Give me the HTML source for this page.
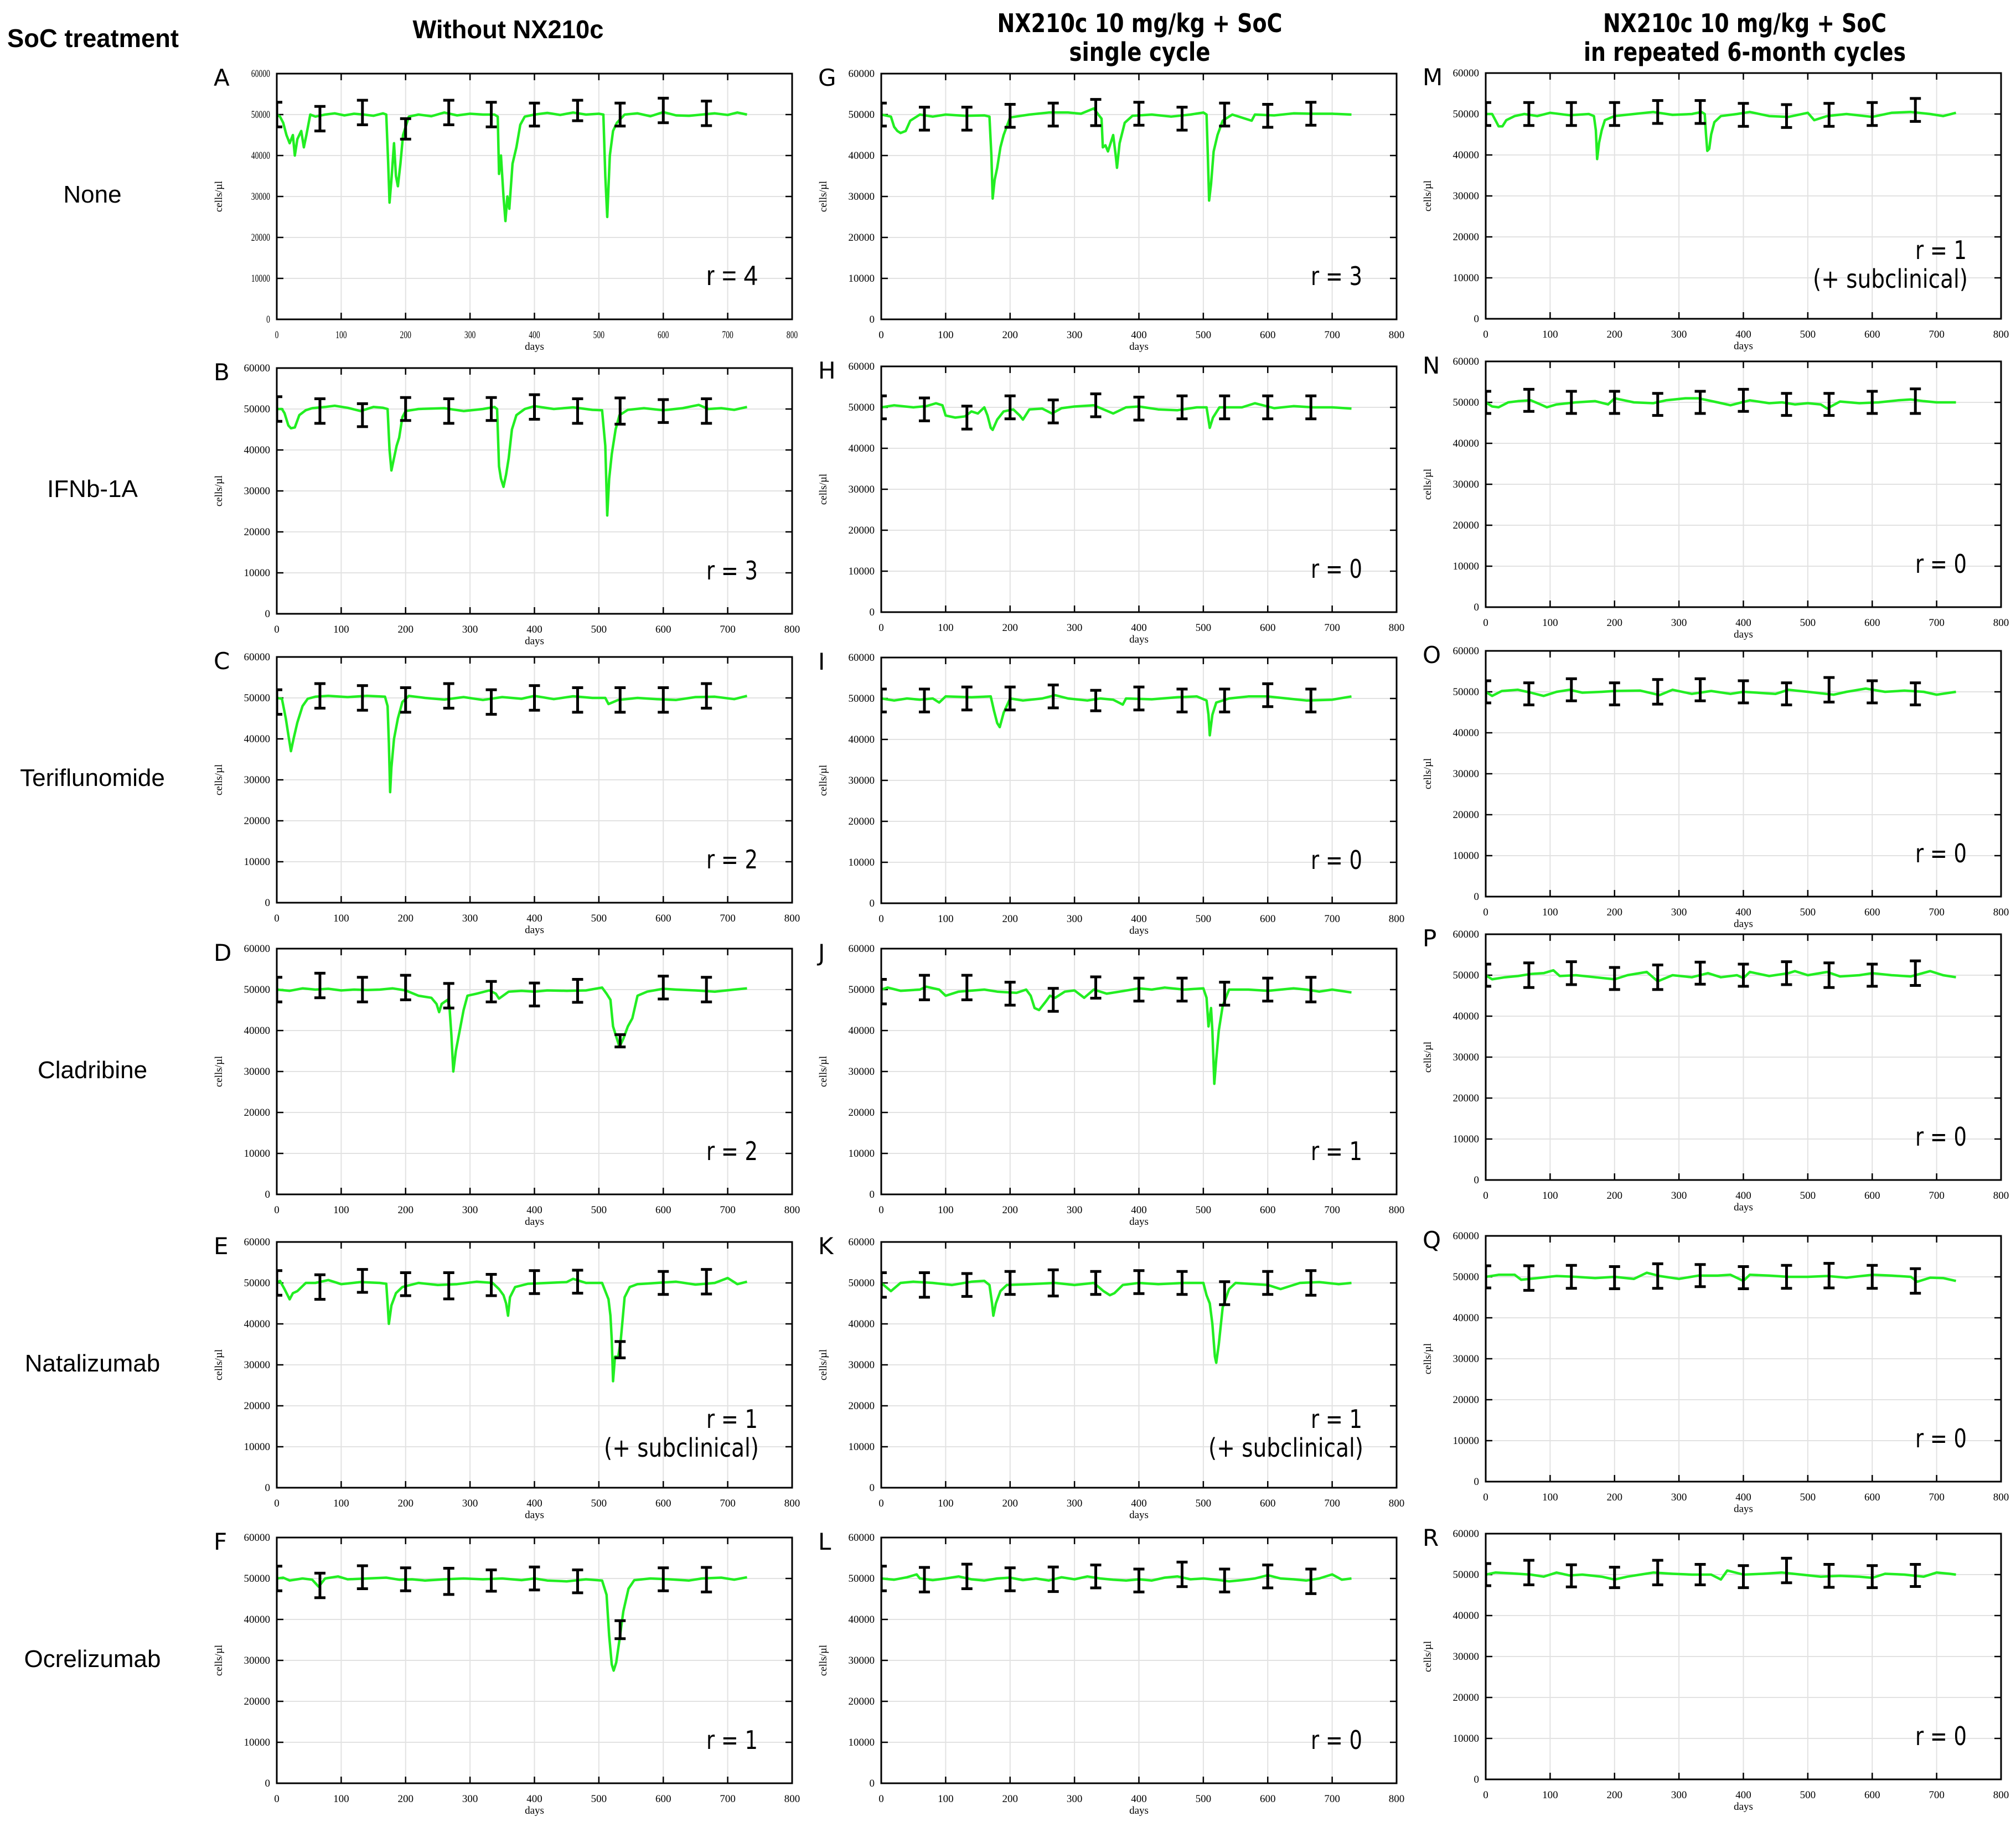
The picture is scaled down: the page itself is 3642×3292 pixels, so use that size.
<!DOCTYPE html>
<html><head><meta charset="utf-8"><style>
html,body{margin:0;padding:0;background:#fff;}
svg{display:block;}
</style></head>
<body>
<svg id="fig" xmlns="http://www.w3.org/2000/svg" width="3642" height="3292" viewBox="0 0 3642 3292">
<rect x="0" y="0" width="3642" height="3292" fill="#fff"/>
<text x="13" y="85" font-family="Liberation Sans, sans-serif" font-weight="bold" font-size="46" textLength="310" lengthAdjust="spacingAndGlyphs">SoC treatment</text>
<text x="918" y="69" text-anchor="middle" font-family="Liberation Sans, sans-serif" font-weight="bold" font-size="46" textLength="345" lengthAdjust="spacingAndGlyphs">Without NX210c</text>
<text x="2059" y="58" text-anchor="middle" font-family="DejaVu Sans, sans-serif" font-weight="bold" font-size="46" textLength="515" lengthAdjust="spacingAndGlyphs">NX210c 10 mg/kg + SoC</text>
<text x="2059" y="110" text-anchor="middle" font-family="DejaVu Sans, sans-serif" font-weight="bold" font-size="46" textLength="255" lengthAdjust="spacingAndGlyphs">single cycle</text>
<text x="3152" y="58" text-anchor="middle" font-family="DejaVu Sans, sans-serif" font-weight="bold" font-size="46" textLength="512" lengthAdjust="spacingAndGlyphs">NX210c 10 mg/kg + SoC</text>
<text x="3152" y="110" text-anchor="middle" font-family="DejaVu Sans, sans-serif" font-weight="bold" font-size="46" textLength="582" lengthAdjust="spacingAndGlyphs">in repeated 6-month cycles</text>
<g font-family="Liberation Sans, sans-serif" font-size="44" text-anchor="middle">
<text x="167" y="366">None</text>
<text x="167" y="898">IFNb-1A</text>
<text x="167" y="1420">Teriflunomide</text>
<text x="167" y="1948">Cladribine</text>
<text x="167" y="2478">Natalizumab</text>
<text x="167" y="3012">Ocrelizumab</text>
</g>
<g id="panels"></g>
</svg>
<script>
// ---- data (values in thousand cells/µl) ----
const xTicks = [0,100,200,300,400,500,600,700,800];
const yTicks = [0,10000,20000,30000,40000,50000,60000];
const ebDays = [0,67,133,200,267,333,400,467,533,600,667];

const daysA = [0,5,10,15,20,25,28,32,38,42,46,52,60,75,90,105,120,135,150,165,170,173,175,178,182,185,188,192,196,200,205,220,240,260,280,300,320,338,343,345,348,352,355,358,361,366,372,378,385,400,420,440,460,480,500,507,510,513,517,522,528,540,560,580,600,620,640,660,680,700,715,730];
const valsA = [50,49.5,48,45,43,45,40,44,46,42,45,50,49.5,50,50.3,49.8,50.2,50,49.7,50.3,50,38,28.5,34,43,35,32.5,38,45,47,49.5,50,49.6,50.5,49.8,50.2,50,50,49.5,35.5,40,30,24,30,27,38,42,47.5,49.5,50,50.4,49.9,50.5,50,50.2,50,35,25,40,46,48,50,50.3,49.6,50.6,49.8,49.7,50,50.3,49.9,50.5,50];
const ebMeanA = [50,49,50.5,46.5,50.5,50,50,51,50,51,50.3];
const ebHalfA = [3,3,3,2.5,3,3,2.8,2.5,2.8,3,3];

const daysB = [0,8,12,18,22,28,35,45,55,75,90,110,130,150,165,172,175,178,182,186,190,195,200,220,260,290,320,338,342,345,348,352,356,360,365,372,385,400,430,460,490,505,510,513,516,520,526,532,545,570,600,630,655,670,690,710,730];
const valsB = [50,50,49,46,45.3,45.5,48.5,49.7,50.2,50.5,50.8,50.3,49.5,50.5,50.3,50,40,35,38,41,43,48,49.5,50,50.2,49.5,50,50.5,50,36,33,31,34,38,45,48.5,50,50.7,50,50.4,49.8,49.7,41,24,33,39,45,48.5,49.8,50.2,49.7,50.2,51,50,50.2,49.8,50.5];
const ebMeanB = [50,49.5,48.5,50,49.5,50,50.5,49.5,49.5,49.5,49.5];
const ebHalfB = [3,3,2.8,2.8,3,2.8,3,3,3.2,2.8,3];

const daysC = [0,8,14,18,22,26,32,40,48,60,80,110,140,168,172,174,176,178,182,188,195,205,230,260,290,320,350,380,400,430,460,490,510,515,530,560,590,620,650,680,710,730];
const valsC = [50,49.8,45,41,37,40,44,48,49.8,50.3,50.5,50.2,50.5,50.3,48,39,27,33,40,45,49,50.5,50,49.6,50.2,49.5,50.2,49.8,50.5,49.7,50.4,50,50,48.5,49.5,50,49.7,49.5,50.2,50.3,49.7,50.5];
const ebMeanC = [49,50.5,50,49.5,50.5,49,50,49.5,49.5,49.5,50.5];
const ebHalfC = [3,3,3,3,3,3,3,3,3,3,3];

const daysD = [0,20,40,60,80,100,120,140,160,180,200,220,240,248,252,256,265,268,271,274,278,284,290,296,310,330,340,345,360,380,400,420,450,480,505,512,518,522,528,532,538,545,552,560,575,600,620,650,680,710,730];
const valsD = [50,49.7,50.3,50,50.2,49.8,50,49.9,50,50.3,49.8,48.5,48,46.5,44.5,46.5,47.5,46,39,30,35,40,45,48.5,49,49.8,49,47.8,49.5,49.7,49.5,49.8,49.7,49.8,50.5,49,47.5,41,38,36,38,41,43,48.5,49.5,50.2,50,49.8,49.5,50,50.3];
const ebMeanD = [50,51,50,50.5,48.5,49.5,48.8,49.7,37.5,50.5,50];
const ebHalfD = [3,3,3,3,3,2.5,2.8,2.8,1.5,2.8,3];

const daysE = [0,5,12,20,25,32,45,60,80,100,130,160,170,172,174,178,185,195,220,250,280,310,335,345,352,356,359,362,370,390,420,450,460,480,505,510,515,518,520,522,525,530,534,540,548,560,590,620,650,680,700,715,730];
const valsE = [50,50.5,48.5,46,47.5,48,50,50,50.7,49.7,50.2,50,49.8,45,40,44.5,47.5,49,50,49.5,49.7,50.3,50,48.5,47,45,42,46.5,49,49.8,50,50.2,51,50,50,48,46,42,36,26,32,32,36,46.5,49,49.7,50,50.3,49.6,50,51.2,49.7,50.3];
const ebMeanE = [50,49,50.5,49.7,49.3,49.5,50.2,50.3,33.7,50,50.3];
const ebHalfE = [3,3,2.8,2.8,3.2,2.6,2.8,2.8,2,2.8,3];

const daysF = [0,10,20,40,55,65,75,95,110,140,170,190,210,230,260,290,320,350,380,400,420,450,480,505,512,516,520,523,527,532,538,546,555,580,610,640,660,690,710,730];
const valsF = [50,50.2,49.5,50,49.7,48,50,50.5,49.8,50,50.2,49.7,49.8,49.5,49.8,50,49.8,50,49.6,50,49.5,49.3,49.8,49.5,46,36,29,27.5,29.5,35,42,47.5,49.6,50,49.8,49.5,50,50.2,49.7,50.3];
const ebMeanF = [50,48.3,50.3,49.8,49.3,49.5,50,49.3,37.5,49.8,49.7];
const ebHalfF = [3,3,2.8,2.8,3.2,2.6,2.8,2.8,2.2,2.8,3];

const daysG = [0,15,20,25,30,38,45,60,80,100,130,160,168,171,173,176,180,185,190,200,230,260,290,310,330,337,342,344,348,352,356,360,364,366,370,378,390,420,450,480,500,505,507,509,512,516,522,530,545,575,580,610,640,670,700,730];
const valsG = [50,49.5,47,46,45.5,46,48.5,50,49.5,50,49.7,49.8,49.5,40,29.5,34,37,42,45,49.3,50,50.5,50.5,50.2,51.5,50,49,42,42.5,41,43,45,40,37,43,48,49.7,50,49.5,50,50.5,50,40,29,33,41,45,48.5,50,48.5,50,49.8,50.3,50.2,50.2,50];
const ebMeanG = [50,49,49,49.7,50,50.5,50.2,49,50,49.7,50.2];
const ebHalfG = [2.8,2.8,2.8,2.8,2.8,3.2,2.8,2.8,2.8,2.8,2.8];

const daysH = [0,20,50,70,85,95,100,115,130,140,150,160,165,170,173,180,190,205,215,220,230,250,265,280,300,330,345,360,380,400,430,460,490,505,510,515,525,560,580,610,640,670,700,730];
const valsH = [50,50.5,50,50.3,51,50.5,48,47.5,47.8,49,48.5,50,48,45,44.5,47,49,49.5,48,47,49.5,49.7,48.5,49.8,50.2,50.5,49.5,48.5,50,50.2,49.5,49.3,50,50,45,47.5,50,50,51,49.8,50.3,50,50,49.7];
const ebMeanH = [50,49.5,47.5,50,49,50.5,49.7,50,50,50,50];
const ebHalfH = [2.8,2.8,2.8,2.8,2.8,2.8,2.8,2.8,2.8,2.8,2.8];

const daysI = [0,20,40,60,80,90,100,140,170,175,180,184,190,200,220,250,270,290,320,340,360,375,380,420,460,490,505,508,510,514,520,540,570,600,630,660,700,730];
const valsI = [50,49.5,50,49.7,50,49,50.5,50.3,50.5,47,44,43,46.5,50,49.5,50,50.8,50,49.5,50,49.7,48.5,50,49.8,50.3,50.5,49.5,46,41,46,49,50,50.5,50.5,50,49.5,49.7,50.5];
const ebMeanI = [49.5,49.5,50,50,50.5,49.5,50,49.5,49.5,50.8,49.5];
const ebHalfI = [2.8,2.8,2.8,2.8,2.8,2.5,2.8,2.8,2.8,2.8,2.8];

const daysJ = [0,10,30,60,70,90,100,120,160,180,210,225,232,238,245,255,262,270,285,300,315,330,350,370,400,420,440,470,500,505,508,512,514,517,520,524,530,540,570,600,640,660,680,700,730];
const valsJ = [50,50.5,49.7,50,50.7,50,48.5,49.5,50,49.5,49.2,50,48.5,45.5,45,47,48.5,48,49.5,49.8,48,50,49,49.5,50.3,50,50.5,50,50.3,48,41,45.5,40,27,33,40,46,50,50,49.7,50.3,50,49.5,50,49.3];
const ebMeanJ = [49.5,50.5,50.5,49,47.5,50.5,50,50,49,50,50];
const ebHalfJ = [3,3,3,2.8,2.8,2.6,2.8,2.8,2.8,2.8,3];

const daysK = [0,15,30,50,80,110,140,160,168,172,174,178,185,195,230,270,300,330,345,355,362,375,400,430,470,500,505,510,514,518,520,524,530,540,550,580,600,620,650,680,710,730];
const valsK = [50,48,50,50.3,50,49.5,50.3,50.5,49.5,45,42,45,48,49.5,49.7,50,49.5,50,48,47,47.5,49.5,50,49.7,50,50,47,45,40,32,30.5,35,44,48.5,50,49.7,49.5,48.5,50,50.2,49.7,50];
const ebMeanK = [49.5,49.5,49.5,50,50,50,50.2,50,47.5,50,50];
const ebHalfK = [3,3,2.8,2.8,3.2,2.8,2.8,2.8,2.8,2.8,3];

const daysL = [0,20,40,55,60,80,100,120,140,160,180,200,220,240,260,280,300,320,340,360,380,400,420,440,460,480,500,520,540,560,580,600,620,640,660,680,700,715,730];
const valsL = [50,49.7,50.3,51,50,49.6,50,50.5,49.8,49.5,50,50.2,49.6,50,49.5,50.3,49.8,50.5,50,49.7,49.5,49.8,49.5,50.2,50.5,49.8,50,49.7,49.3,49.6,50,50.8,50,49.8,49.5,50,51,49.7,50];
const ebMeanL = [50,49.7,50.5,49.8,49.8,50.5,49.5,51,49.5,50.5,49.3];
const ebHalfL = [3,3,3,2.8,3,2.8,2.8,3,2.8,2.8,3];

const daysM = [0,10,15,20,26,32,45,60,80,100,130,160,168,171,173,176,180,185,200,230,260,290,320,335,340,342,344,347,350,355,365,390,410,440,470,500,510,530,560,600,630,660,690,710,730];
const valsM = [50,50,48.5,47,47,48.5,49.5,50,49.5,50.3,49.7,50,49.5,46,39,43,46,48.5,49.5,50,50.5,49.8,50,50.5,50,45,41,41.5,45,48,49.5,50,50.5,49.5,49.3,50.3,48.5,49.5,50,49.3,50.3,50.5,50,49.5,50.3];
const ebMeanM = [50,50,50,50,50.5,50.5,49.8,49.5,49.8,50,51];
const ebHalfM = [2.8,2.8,2.8,2.8,2.8,2.8,2.8,2.8,2.8,2.8,2.8];

const daysN = [0,10,20,35,50,70,85,95,110,140,170,190,200,230,260,280,310,330,360,380,410,440,460,480,500,520,530,550,580,610,640,660,680,700,730];
const valsN = [50,49,48.8,50,50.3,50.5,49.5,48.8,49.5,50,50.3,49.5,51,50,49.8,50.5,51,51,50,49.3,50.5,49.8,50,49.5,49.8,49.5,48.5,50.2,49.8,50,50.5,50.7,50.3,50,50];
const ebMeanN = [50,50.5,50,50,49.5,50,50.5,49.5,49.5,50,50.3];
const ebHalfN = [2.7,2.7,2.7,2.7,2.7,2.7,2.7,2.7,2.7,2.7,3];

const daysO = [0,10,25,50,70,90,110,130,150,180,200,240,270,290,320,350,380,400,430,450,470,500,540,560,590,620,650,680,700,730];
const valsO = [50,49,50.2,50.5,49.8,49,50,50.5,49.8,50,50.2,50.3,49.2,50.5,49.5,50.2,49.5,50,49.7,49.5,50.5,50,49.3,50,50.8,50,50.3,50,49.3,50];
const ebMeanO = [50,49.5,50.5,49.5,50,50.5,50,49.5,50.5,50,49.5];
const ebHalfO = [2.7,2.7,2.7,2.7,3,2.7,2.7,2.7,3,2.7,2.7];

const daysP = [0,10,30,50,70,90,105,115,140,170,200,220,250,267,290,320,345,365,390,400,410,440,470,480,500,530,550,580,600,630,660,690,710,730];
const valsP = [50,49,49.5,49.8,50.3,50.5,51.2,49.8,50,49.5,49,50,50.8,48.5,50,49.5,50.5,49.5,50,49.3,50.8,49.8,50.5,51,50,50.8,49.7,50,50.5,50,49.7,51,50,49.5];
const ebMeanP = [50,50,50.5,49.2,49.5,50.5,50,50.5,50,50,50.5];
const ebHalfP = [2.7,3,2.8,2.7,3,2.7,2.7,2.8,3,2.7,3];

const daysQ = [0,20,45,55,80,110,140,170,200,230,250,270,300,330,360,380,400,410,440,470,500,530,560,600,630,660,670,690,710,730];
const valsQ = [50,50.5,50.5,49.3,49.7,50.2,50,49.7,50,49.5,51,50.2,49.5,50.3,50.3,50.5,49,50.5,50.3,50,50,50.2,49.8,50.5,50.3,50,48.8,49.8,49.7,49];
const ebMeanQ = [50,49.7,50,49.8,50.2,50.3,49.8,50,50.3,50,49];
const ebHalfQ = [2.7,3,2.8,2.7,3,2.7,2.7,2.8,3,2.8,3];

const daysR = [0,15,40,70,90,110,130,150,180,200,220,240,260,290,320,350,365,375,400,430,460,490,520,550,580,600,620,650,680,700,720,730];
const valsR = [50,50.5,50.3,50,49.5,50.5,49.8,50,49.5,48.8,49.5,50,50.5,50.2,50,50,48.8,51,50,50.2,50.5,50,49.5,49.7,49.5,49.2,50.2,50,49.5,50.5,50.2,50];
const ebMeanR = [50,50.5,49.7,49.3,50.5,50,49.5,51,49.7,49.5,49.8];
const ebHalfR = [2.7,3,2.7,2.5,3,2.5,2.7,3,2.8,2.7,2.7];

const NS = 'http://www.w3.org/2000/svg';
const root = document.getElementById('panels');
const colLeft = [500, 1592, 2684];
const plotW = 931, plotH = 444;

function mk(tag, attrs, parent){
  const e = document.createElementNS(NS, tag);
  for (const k in attrs) e.setAttribute(k, attrs[k]);
  parent.appendChild(e);
  return e;
}

function drawPanel(letter, col, top, days, vals, ebMean, ebHalf, rText, sub, condensed){
  const L = colLeft[col], T = top, B = top + plotH, R = L + plotW;
  const xs = d => L + d / 800 * plotW;
  const ys = v => B - v / 60000 * plotH;
  const g = mk('g', {}, root);
  
  
  const clipId = 'clip' + letter;
  const cp = mk('clipPath', {id: clipId}, g);
  mk('rect', {x: L, y: T, width: plotW, height: plotH}, cp);
  const grid = mk('g', {stroke: '#e2e2e2', 'stroke-width': 2}, g);
  
  
  xTicks.forEach(t => { mk('line', {x1: xs(t), x2: xs(t), y1: T, y2: B}, grid); });
  yTicks.forEach(t => { mk('line', {x1: L, x2: R, y1: ys(t), y2: ys(t)}, grid); });
  const tk = mk('g', {stroke: '#000', 'stroke-width': 2.5}, g);
  xTicks.forEach(t => { mk('line', {x1: xs(t), x2: xs(t), y1: B, y2: B - 12}, tk); mk('line', {x1: xs(t), x2: xs(t), y1: T, y2: T + 12}, tk); });
  yTicks.forEach(t => { mk('line', {x1: L, x2: L + 12, y1: ys(t), y2: ys(t)}, tk); mk('line', {x1: R, x2: R - 12, y1: ys(t), y2: ys(t)}, tk); });
  let d = '';
  days.forEach((dd, i) => { d += (i ? 'L' : 'M') + xs(dd).toFixed(1) + ',' + ys(vals[i] * 1000).toFixed(1); });
  const line = mk('path', {d: d, fill: 'none', stroke: '#22ee22', 'stroke-width': 4.5, 'stroke-linejoin': 'round', 'clip-path': 'url(#' + clipId + ')'}, g);
  
  
  const eb = mk('g', {stroke: '#000', 'stroke-width': 5, 'clip-path': 'url(#' + clipId + ')'}, g);
  
  
  ebDays.forEach((dd, i) => {
    const x = xs(dd), y1 = ys((ebMean[i] - ebHalf[i]) * 1000), y2 = ys((ebMean[i] + ebHalf[i]) * 1000);
    mk('line', {x1: x, x2: x, y1: y1, y2: y2}, eb);
    mk('line', {x1: x - 10, x2: x + 10, y1: y1, y2: y1}, eb);
    mk('line', {x1: x - 10, x2: x + 10, y1: y2, y2: y2}, eb);
  });
  const fr = mk('rect', {x: L, y: T, width: plotW, height: plotH, fill: 'none', stroke: '#000', 'stroke-width': 3}, g);
  
  
  const sx = condensed ? 0.72 : 1;
  const serif = 'Liberation Serif, serif';
  yTicks.forEach(t => {
    const tx = mk('text', {x: 0, y: 0, 'text-anchor': 'end', 'font-family': serif, 'font-size': 19, transform: 'translate(' + (L - 12) + ',' + (ys(t) + 6) + ') scale(' + sx + ',1)'}, g);
    
    
    tx.textContent = String(t);
  });
  xTicks.forEach(t => {
    const tx = mk('text', {x: 0, y: 0, 'text-anchor': 'middle', 'font-family': serif, 'font-size': 19, transform: 'translate(' + xs(t) + ',' + (B + 34) + ') scale(' + sx + ',1)'}, g);
    
    
    tx.textContent = String(t);
  });
  const xt = mk('text', {x: (L + R) / 2, y: B + 55, 'text-anchor': 'middle', 'font-family': serif, 'font-size': 19}, g);
  
  
  xt.textContent = 'days';
  const yt = mk('text', {x: 0, y: 0, 'text-anchor': 'middle', 'font-family': serif, 'font-size': 19, transform: 'translate(' + (L - 99) + ',' + (T + plotH / 2) + ') rotate(-90)'}, g);
  
  
  yt.textContent = 'cells/µl';
  const lt = mk('text', {x: L - 114, y: T + 22, 'font-family': 'DejaVu Sans, sans-serif', 'font-size': 42}, g);
  
  
  lt.textContent = letter;
  const rFont = condensed ? 'Liberation Sans, sans-serif' : 'DejaVu Sans, sans-serif';
  const rt = mk('text', {x: R - 62, y: sub ? B - 108 : B - 62, 'text-anchor': 'end', 'font-family': rFont, 'font-size': condensed ? 50 : 46, textLength: 93, lengthAdjust: 'spacingAndGlyphs'}, g);
  
  
  rt.textContent = rText;
  if (sub) {
    const st = mk('text', {x: R - 60, y: B - 56, 'text-anchor': 'end', 'font-family': 'DejaVu Sans, sans-serif', 'font-size': 46, textLength: 280, lengthAdjust: 'spacingAndGlyphs'}, g);
    
    
    st.textContent = '(+ subclinical)';
  }
}

drawPanel('A', 0, 133, daysA, valsA, ebMeanA, ebHalfA, 'r = 4', false, true);
drawPanel('B', 0, 665, daysB, valsB, ebMeanB, ebHalfB, 'r = 3', false, false);
drawPanel('C', 0, 1187, daysC, valsC, ebMeanC, ebHalfC, 'r = 2', false, false);
drawPanel('D', 0, 1714, daysD, valsD, ebMeanD, ebHalfD, 'r = 2', false, false);
drawPanel('E', 0, 2244, daysE, valsE, ebMeanE, ebHalfE, 'r = 1', true, false);
drawPanel('F', 0, 2778, daysF, valsF, ebMeanF, ebHalfF, 'r = 1', false, false);
drawPanel('G', 1, 133, daysG, valsG, ebMeanG, ebHalfG, 'r = 3', false, false);
drawPanel('H', 1, 662, daysH, valsH, ebMeanH, ebHalfH, 'r = 0', false, false);
drawPanel('I', 1, 1188, daysI, valsI, ebMeanI, ebHalfI, 'r = 0', false, false);
drawPanel('J', 1, 1714, daysJ, valsJ, ebMeanJ, ebHalfJ, 'r = 1', false, false);
drawPanel('K', 1, 2244, daysK, valsK, ebMeanK, ebHalfK, 'r = 1', true, false);
drawPanel('L', 1, 2778, daysL, valsL, ebMeanL, ebHalfL, 'r = 0', false, false);
drawPanel('M', 2, 132, daysM, valsM, ebMeanM, ebHalfM, 'r = 1', true, false);
drawPanel('N', 2, 653, daysN, valsN, ebMeanN, ebHalfN, 'r = 0', false, false);
drawPanel('O', 2, 1176, daysO, valsO, ebMeanO, ebHalfO, 'r = 0', false, false);
drawPanel('P', 2, 1688, daysP, valsP, ebMeanP, ebHalfP, 'r = 0', false, false);
drawPanel('Q', 2, 2233, daysQ, valsQ, ebMeanQ, ebHalfQ, 'r = 0', false, false);
drawPanel('R', 2, 2771, daysR, valsR, ebMeanR, ebHalfR, 'r = 0', false, false);
</script>
</body></html>
